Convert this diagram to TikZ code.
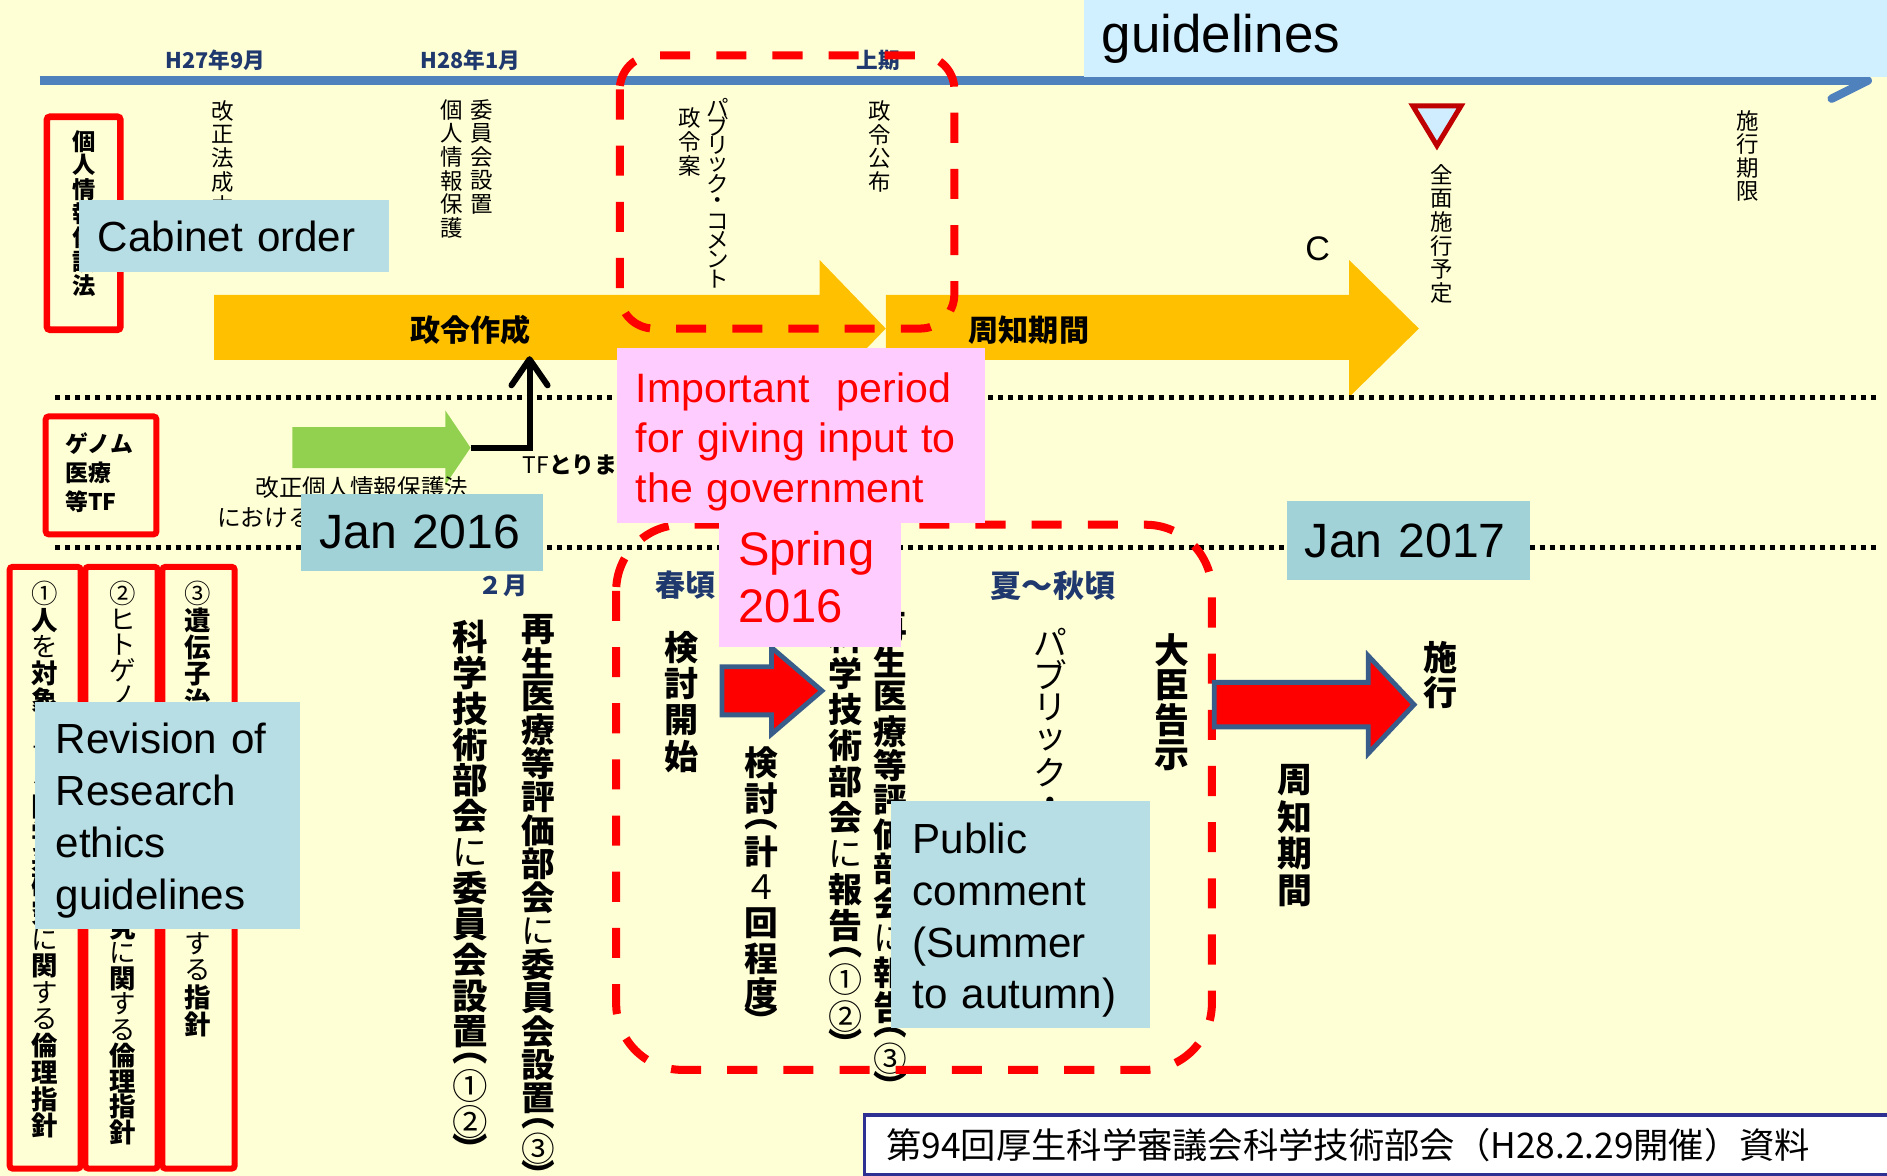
\documentclass[tikz,border=0pt]{standalone}
\usepackage{fontspec}
\setmainfont{Liberation Sans}
\newfontfamily\jp{Noto Sans CJK JP}
\usetikzlibrary{arrows.meta}
\definecolor{orangeA}{RGB}{255,192,0}
\definecolor{greenA}{RGB}{146,208,80}
\definecolor{tlblue}{RGB}{79,129,189}
\definecolor{navyT}{RGB}{31,56,110}
\definecolor{bgY}{RGB}{255,255,214}
\definecolor{tealA}{RGB}{183,222,228}
\definecolor{tealB}{RGB}{160,210,216}
\definecolor{skyA}{RGB}{208,240,255}
\definecolor{pinkA}{RGB}{255,204,255}
\definecolor{redD}{RGB}{192,0,0}
\definecolor{arrowedge}{RGB}{56,93,138}
\definecolor{footblue}{RGB}{46,49,146}
\definecolor{triblue}{RGB}{208,236,255}
\makeatletter
\newdimen\vs@pitch
\newcommand\vstack[2]{\vs@pitch=#1\relax\vbox{\offinterlineskip\@tfor\vs@c:=#2\do{\vs@put}}}
\def\vs@put{\global\let\vs@half\relax\setbox0\hbox{\vs@c}%
  \ifx\vs@half\relax\vbox to\vs@pitch{\vss\hbox to\vs@pitch{\hss\box0\hss}\vss}%
  \else\vbox to.5\vs@pitch{\vss\hbox to\vs@pitch{\hss\box0\hss}\vss}\fi}
\newcommand\PL{\global\let\vs@half\@empty ︵}
\newcommand\PR{\global\let\vs@half\@empty ︶}
\makeatother
\newcommand\jpfs[1]{\jp\fontsize{#1}{#1}\selectfont}
\newcommand\jpbf[1]{\jp\bfseries\fontsize{#1}{#1}\selectfont}
\newcommand\enfs[2]{\fontsize{#1}{#2}\selectfont}
\newcommand\rg{\mdseries}
\begin{document}
\begin{tikzpicture}[x=0.6pt,y=-0.6pt,
  vtxt/.style={inner sep=0pt, anchor=north},
  htxt/.style={inner sep=0pt},
  tbox/.style={anchor=north west, inner ysep=0pt, align=left},
  redbox/.style={draw=red, line width=3pt, rounded corners=1.5pt},
  reddash/.style={draw=red, line width=4pt, dash pattern=on 15pt off 13pt, rounded corners=#1},
  dotline/.style={line width=2.6pt, dash pattern=on 2.5pt off 2.5pt},
  blockR/.style={fill=red, draw=arrowedge, line width=2.4pt, line join=miter}]
\clip (0,0) rectangle (1568,977);
\fill[bgY] (0,0) rectangle (1568,977);

% timeline
\coordinate (tlS) at (33,67);
\coordinate (tlE) at (1552,67);
\draw[tlblue, line width=4.2pt] (tlS) -- (tlE);
\draw[tlblue, line width=4.2pt, line cap=round, line join=round] (1522,52) -- (tlE) -- (1522,82);

\node[htxt, font=\jpbf{10.8}, text=navyT] (h27) at (179,50) {H27年9月};
\node[htxt, font=\jpbf{10.8}, text=navyT] (h28) at (391,50) {H28年1月};
\node[htxt, font=\jpbf{10.8}, text=navyT] (jouki) at (730,50) {上期};

% top vertical labels
\node[vtxt, font=\jpfs{11.2}] (kaisei) at (185,82) {\vstack{11.8pt}{改正法成立}};
\node[vtxt, font=\jpfs{11.2}] (hogo) at (375,81) {\vstack{11.8pt}{個人情報保護}};
\node[vtxt, font=\jpfs{11.2}] (iinkai) at (400,81) {\vstack{11.8pt}{委員会設置}};
\node[vtxt, font=\jpfs{11.2}] (seireian) at (573,88) {\vstack{11.8pt}{政令案}};
\node[vtxt, font=\jpfs{11.2}] (pubcomA) at (596,81) {\vstack{9.5pt}{パブリック・コメント}};
\node[vtxt, font=\jpfs{11.2}] (koufu) at (731,82) {\vstack{11.8pt}{政令公布}};
\node[vtxt, font=\jpfs{11.2}] (zenmen) at (1198,135) {\vstack{11.8pt}{全面施行予定}};
\node[vtxt, font=\jpfs{11.2}] (kigen) at (1452,90) {\vstack{11.8pt}{施行期限}};

\filldraw[fill=triblue, draw=redD, line width=2.5pt, line join=miter] (1174,88) -- (1214,88) -- (1194,121) -- cycle;

% orange arrows
\fill[orangeA] (178,245) -- (681,245) -- (681,216) -- (736,273) -- (681,330) -- (681,299) -- (178,299) -- cycle;
\fill[orangeA] (736,245) -- (1121,245) -- (1121,216) -- (1179,273) -- (1121,330) -- (1121,299) -- (736,299) -- cycle;
\node[htxt, font=\jpbf{15}] (seirei) at (391,274) {政令作成};
\node[htxt, font=\jpbf{15}] (shuchiA) at (855,274) {周知期間};
\node[htxt, font=\enfs{17}{17}] (cmark) at (1095,207) {C};

% red solid boxes
\draw[redbox, line width=3.3pt] (39,97) rectangle (100,274);
\node[vtxt, font=\jpbf{11.6}] (kojinho) at (70,107) {\vstack{12pt}{個人情報保護法}};

\draw[redbox] (38,346) rectangle (130,444);
\node[htxt, anchor=west, align=left, font=\jp\bfseries\fontsize{11.4}{14.4}\selectfont] (genome) at (54,393) {ゲノム\\医療\\等TF};

\draw[redbox] (8,471) rectangle (67,971);
\draw[redbox] (71,471) rectangle (131,971);
\draw[redbox] (135,471) rectangle (195,971);

% dotted separators
\draw[dotline] (46,330) -- (1561,330);
\draw[dotline] (46,455) -- (1561,455);

% green arrow and elbow
\fill[greenA] (243,355) -- (370,355) -- (370,341) -- (391,372) -- (370,403) -- (370,389) -- (243,389) -- cycle;
\coordinate (gtip) at (391,372);
\coordinate (obot) at (440,296);
\draw[line width=3pt, -{Straight Barb[length=13pt,width=18pt,round]}] (gtip) -| (obot);
\node[htxt, anchor=west, font=\jpbf{11.4}] (tf) at (434,386) {{\rg TF}とりまとめ};
\node[htxt, anchor=west, font=\jpfs{11.8}] (kaiseitxt) at (212,405) {改正個人情報保護法};
\node[htxt, anchor=west, font=\jpfs{11.8}] (niokeru) at (180,430) {における};

% bottom labels
\node[htxt, font=\jpbf{12}, text=navyT] (feb) at (418,487) {２月};
\node[htxt, font=\jpbf{15}, text=navyT] (haru) at (570,486) {春頃};
\node[htxt, font=\jpbf{15.5}, text=navyT] (natsu) at (875,487) {夏～秋頃};

% guideline columns
\node[vtxt, font=\jpbf{13.2}] (g1) at (37,482) {\vstack{13.26pt}{{\rg ①}人{\rg を}対象{\rg と}{\rg す}{\rg る}医学系研究{\rg に}関{\rg す}{\rg る}倫理指針}};
\node[vtxt, font=\jpbf{13.2}] (g2) at (102,482) {\vstack{12.8pt}{{\rg ②}{\rg ヒ}{\rg ト}{\rg ゲ}{\rg ノ}{\rg ム}{\rg ・}遺伝子解析研究{\rg に}関{\rg す}{\rg る}倫理指針}};
\node[vtxt, font=\jpbf{13.2}] (g3) at (164,482) {\vstack{13.4pt}{{\rg ③}遺伝子治療等臨床研究{\rg に}関{\rg す}{\rg る}指針}};

% bottom vertical texts
\node[vtxt, font=\jpbf{17.7}] (kagaku1) at (391,514) {\vstack{17.9pt}{科学技術部会{\rg に}委員会設置\PL{\rg ①}{\rg ②}\PR}};
\node[vtxt, font=\jpbf{16.8}] (saisei1) at (447,509) {\vstack{16.7pt}{再生医療等評価部会{\rg に}委員会設置\PL{\rg ③}\PR}};
\node[vtxt, font=\jpbf{17}] (kentou1) at (566,523) {\vstack{18pt}{検討開始}};
\node[vtxt, font=\jpbf{16.8}] (kentou2) at (633,619) {\vstack{17.7pt}{検討\PL 計{\rg ４}回程度\PR}};
\node[vtxt, font=\jpbf{17}] (kagaku2) at (703,514) {\vstack{18pt}{科学技術部会{\rg に}報告\PL{\rg ①}{\rg ②}\PR}};
\node[vtxt, font=\jpbf{16.8}] (saisei2) at (740,507) {\vstack{17.2pt}{再生医療等評価部会{\rg に}報告\PL{\rg ③}\PR}};
\node[vtxt, font=\jpfs{16.8}] (pubcomB) at (873,520) {\vstack{16.2pt}{パブリック・コメント}};
\node[vtxt, font=\jpbf{17.4}] (daijin) at (974,525) {\vstack{17.6pt}{大臣告示}};
\node[vtxt, font=\jpbf{17}] (sekou) at (1197,532) {\vstack{17.1pt}{施行}};
\node[vtxt, font=\jpbf{17.4}] (shuchiB) at (1076,633) {\vstack{18.3pt}{周知期間}};

% dashed regions
\draw[reddash=17pt] (515,46) rectangle (793,273);
\draw[reddash=33pt] (512,436) rectangle (1007,889);

% red block arrows
\filldraw[blockR] (600,554) -- (641,554) -- (641,538) -- (683,574) -- (641,610) -- (641,594) -- (600,594) -- cycle;
\filldraw[blockR] (1009,567) -- (1137,567) -- (1137,545) -- (1175,585.5) -- (1137,626) -- (1137,604) -- (1009,604) -- cycle;

% annotation boxes
\node[tbox, fill=skyA, font=\enfs{26.4}{30}, inner xsep=9pt, text width=382.8pt, minimum height=38.4pt] (guide) at (900,0) {guidelines};
\node[tbox, fill=tealA, font=\enfs{21}{25}, inner xsep=9.6pt, text width=135.6pt, minimum height=36pt] (cabinet) at (65,166) {Cabinet order};
\node[tbox, fill=tealB, font=\enfs{24}{28}, inner xsep=9pt, text width=102.6pt, minimum height=38.4pt] (jan16) at (250,410) {Jan 2016};
\node[tbox, fill=tealB, font=\enfs{24}{28}, inner xsep=9pt, text width=103.2pt, minimum height=39.6pt] (jan17) at (1069,416) {Jan 2017};
\node[tbox, fill=pinkA, text=red, font=\enfs{20.5}{25}, inner xsep=9.6pt, text width=164.4pt, minimum height=87pt] (imp) at (512,289) {\rule{0pt}{21pt}Important~ period\\for giving input to\\the government};
\node[tbox, fill=pinkA, text=red, font=\enfs{23.5}{28}, inner xsep=9.6pt, text width=71.4pt, minimum height=62.4pt] (spring) at (597,433) {Spring\\2016\rule[-7.2pt]{0pt}{0pt}};
\node[tbox, fill=tealA, font=\enfs{21}{25.8}, inner xsep=10.2pt, text width=111.6pt, minimum height=113.4pt] (revision) at (29,583) {\rule{0pt}{20pt}Revision of\\Research\\ethics\\guidelines};
\node[tbox, fill=tealA, font=\enfs{21}{25.8}, inner xsep=10.8pt, text width=107.4pt, minimum height=113.4pt] (public) at (740,665) {\rule{0pt}{21pt}Public\\comment\\(Summer\\to autumn)};

% footer
\node[tbox, draw=footblue, line width=1.8pt, fill=white, font=\jpfs{17.6}, inner xsep=10.8pt, text width=496.2pt, minimum height=30pt] (footer) at (717,925) {第94回厚生科学審議会科学技術部会（H28.2.29開催）資料};
\end{tikzpicture}
\end{document}
